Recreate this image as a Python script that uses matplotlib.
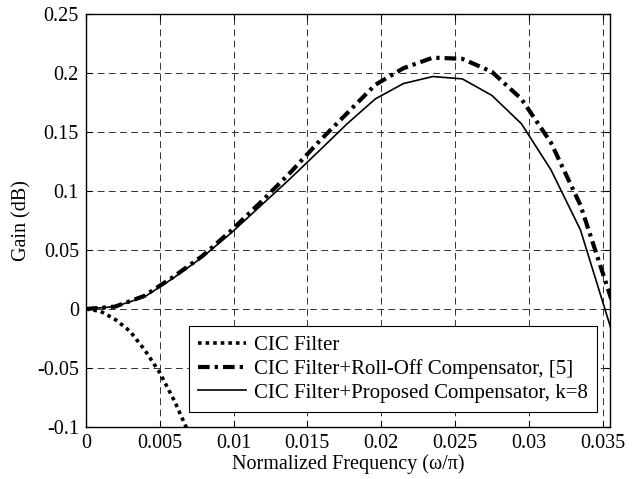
import numpy as np
import matplotlib.pyplot as plt

plt.rcParams['font.family'] = ['Liberation Serif', 'DejaVu Serif']

# CIC filter alone
cic_freq = [0, 0.001, 0.002, 0.003, 0.004, 0.005, 0.006, 0.007, 0.008]
cic_gain = [0, -0.002, -0.009, -0.019, -0.035, -0.054, -0.078, -0.106, -0.138]

# compensated responses, common frequency grid
freq = [0, 0.00197, 0.00394, 0.0059, 0.0079, 0.0098, 0.0118, 0.0138, 0.0158,
        0.0177, 0.0196, 0.0215, 0.0235, 0.0255, 0.0275, 0.0295, 0.0315, 0.0335, 0.0356]
rolloff_gain = [0, 0.002, 0.011, 0.027, 0.045, 0.066, 0.090, 0.115, 0.142,
                0.166, 0.190, 0.204, 0.213, 0.212, 0.201, 0.178, 0.141, 0.088, 0.008]
proposed_gain = [0, 0.002, 0.010, 0.026, 0.044, 0.064, 0.087, 0.110, 0.134,
                 0.157, 0.178, 0.191, 0.197, 0.195, 0.181, 0.157, 0.118, 0.067, -0.018]

xticks = [0, 0.005, 0.01, 0.015, 0.02, 0.025, 0.03, 0.035]
xtick_labels = ['0', '0.005', '0.01', '0.015', '0.02', '0.025', '0.03', '0.035']
yticks = [-0.1, -0.05, 0, 0.05, 0.1, 0.15, 0.2, 0.25]
ytick_labels = ['-0.1', '-0.05', '0', '0.05', '0.1', '0.15', '0.2', '0.25']

fig = plt.figure(figsize=(6.41, 4.79), dpi=100)
ax = fig.add_axes([0.134, 0.1086, 0.8176, 0.8622])

ax.plot(cic_freq, cic_gain, color='black', lw=2.6, linestyle=(0, (1, 1.1)),
        dash_capstyle='butt', label='CIC Filter')
ax.plot(freq, rolloff_gain, color='black', lw=3.0, linestyle=(0, (2.8, 1.2, 0.8, 1.2)),
        dash_capstyle='butt', label='CIC Filter+Roll-Off Compensator, [5]')
ax.plot(freq, proposed_gain, color='black', lw=1.2,
        label='CIC Filter+Proposed Compensator, k=8')

ax.set_xlim(0, 0.0355)
ax.set_ylim(-0.1, 0.25)
ax.set_xticks(xticks)
ax.set_xticklabels(xtick_labels)
ax.set_yticks(yticks)
ax.set_yticklabels(ytick_labels)
ax.tick_params(direction='in', top=True, right=True, labelsize=14.5, length=4, width=0.8, pad=5)
for s in ax.spines.values():
    s.set_linewidth(1.0)

ax.grid(True, color='#333333', linestyle=(0, (7, 4.5)), linewidth=0.7)
ax.set_xlabel('Normalized Frequency (\u03c9/\u03c0)', fontsize=14.5, labelpad=1)
ax.set_ylabel('Gain (dB)', fontsize=14.5, labelpad=4)

leg = ax.legend(loc='lower right', bbox_to_anchor=(0.976, 0.036), fontsize=15,
                frameon=True, fancybox=False, edgecolor='black', framealpha=1,
                handlelength=2.3, borderpad=0.45, labelspacing=0.2, handletextpad=0.4,
                borderaxespad=0)
leg.get_frame().set_linewidth(0.8)

fig.savefig('out.png', dpi=100)
